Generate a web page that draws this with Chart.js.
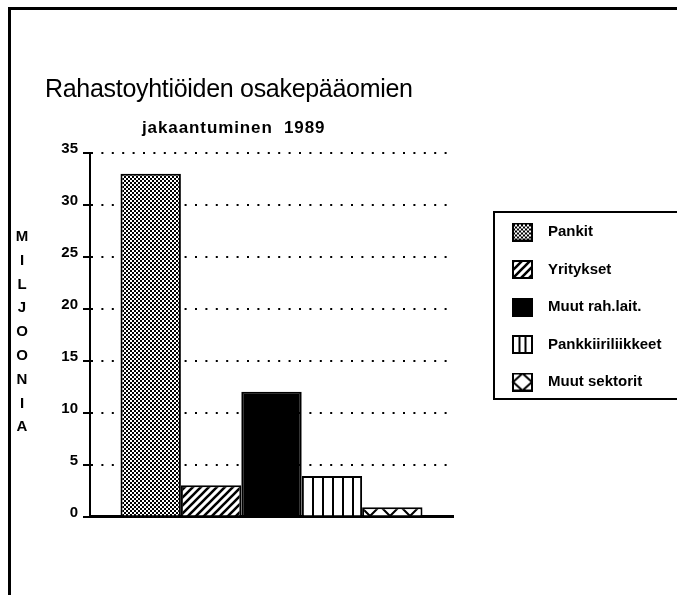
<!DOCTYPE html>
<html lang="fi">
<head>
<meta charset="UTF-8">
<title>Rahastoyhtiöiden osakepääomien jakaantuminen 1989</title>
<script src="https://cdn.jsdelivr.net/npm/chart.js@4.4.1/dist/chart.umd.min.js"></script>
<style>
    html, body { margin: 0; padding: 0; background: #fff; }
    #page {
        position: relative; width: 677px; height: 595px; overflow: hidden;
        font-family: 'Liberation Sans', Arial, Helvetica, sans-serif; color: #000;
    }
    #frame {
        position: absolute; left: 8px; top: 7px; width: 700px; height: 620px;
        border-left: 3px solid #000; border-top: 3px solid #000;
    }
    #chart { position: absolute; left: 0; top: 0; }
    .txt { position: absolute; white-space: pre; }
    #title { left: 45px; top: 75.5px; font-size: 25px; line-height: 25px; letter-spacing: -0.3px; }
    #subtitle { left: 142px; top: 119px; font-size: 17px; line-height: 17px; font-weight: bold; letter-spacing: 0.9px; }
    #ylabel { left: 12px; top: 224px; width: 20px; text-align: center; font-size: 15px; line-height: 23.8px; font-weight: bold; }
</style>
</head>
<body>
<div id="page">
    <div id="frame"></div>
    <canvas id="chart" width="677" height="595"></canvas>
    <div class="txt" id="title">Rahastoyhtiöiden osakepääomien</div>
    <div class="txt" id="subtitle">jakaantuminen  1989</div>
    <div class="txt" id="ylabel">M<br>I<br>L<br>J<br>O<br>O<br>N<br>I<br>A</div>
</div>

<script>
    // data (millions)
    const sectors = ['Pankit', 'Yritykset', 'Muut rah.lait.', 'Pankkiiriliikkeet', 'Muut sektorit'];
    const values = [33, 3, 12, 3.9, 0.9];
    const yTicks = [0, 5, 10, 15, 20, 25, 30, 35];
    const fills = ['dots', 'stripes', 'black', 'vlines', 'diamonds'];

    const FONT = "'Liberation Sans', Arial, Helvetica, sans-serif";

    function tile(w, h, draw) {
        const c = document.createElement('canvas');
        c.width = w; c.height = h;
        const g = c.getContext('2d');
        g.fillStyle = '#fff';
        g.fillRect(0, 0, w, h);
        g.fillStyle = '#000';
        g.strokeStyle = '#000';
        draw(g, w, h);
        return c;
    }

    function diamond(g, dy) {
        g.moveTo(0, 10 + dy); g.lineTo(10, dy); g.lineTo(20, 10 + dy); g.lineTo(10, 20 + dy); g.closePath();
    }

    const tiles = {
        dots: tile(4, 4, g => { g.fillRect(0, 0, 2, 2); g.fillRect(2, 2, 2, 2); }),
        stripes: tile(8, 8, g => {
            g.lineWidth = 2.6;
            g.beginPath();
            g.moveTo(-4, 4); g.lineTo(4, -4);
            g.moveTo(0, 8); g.lineTo(8, 0);
            g.moveTo(4, 12); g.lineTo(12, 4);
            g.stroke();
        }),
        vlines: tile(10, 10, g => { g.fillRect(2, 0, 2, 10); }),
        // bottom corners of the diamonds land on the base line (y = 516)
        diamonds: tile(20, 20, g => {
            g.lineWidth = 2;
            g.beginPath();
            diamond(g, -4);
            diamond(g, 16);
            g.stroke();
        })
    };

    const ctx = document.getElementById('chart').getContext('2d');

    function fillFor(kind) {
        if (kind === 'black') return '#000';
        return ctx.createPattern(tiles[kind], 'repeat');
    }

    // legend swatches: 21x19 box at the right end of a 50px wide image
    function icon(kind) {
        return tile(50, 19, g => {
            g.clearRect(0, 0, 50, 19);
            g.fillStyle = '#fff';
            g.fillRect(29, 0, 21, 19);
            if (kind === 'black') {
                g.fillStyle = '#000';
                g.fillRect(29, 0, 21, 19);
            } else if (kind === 'vlines') {
                g.fillStyle = '#000';
                g.fillRect(35.5, 0, 2, 19);
                g.fillRect(41.5, 0, 2, 19);
            } else if (kind === 'diamonds') {
                g.lineWidth = 2;
                g.beginPath();
                g.moveTo(39.5, 1); g.lineTo(49, 9.5); g.lineTo(39.5, 18); g.lineTo(30, 9.5); g.closePath();
                g.stroke();
            } else {
                g.fillStyle = g.createPattern(tiles[kind], 'repeat');
                g.fillRect(29, 0, 21, 19);
            }
            g.strokeStyle = '#000';
            g.lineWidth = 2;
            g.strokeRect(30, 1, 19, 17);
        });
    }
    const icons = fills.map(icon);

    // box around the legend, open on the right like in the original
    const legendFrame = {
        id: 'legendFrame',
        afterDraw(chart) {
            const boxes = chart.legend.legendHitBoxes;
            if (!boxes || !boxes.length) return;
            const first = boxes[0], last = boxes[boxes.length - 1];
            const left = first.left + 18.5;
            const top = first.top - 12.5;
            const bottom = last.top + last.height + 9.5;
            const c = chart.ctx;
            c.save();
            c.strokeStyle = '#000';
            c.lineWidth = 2;
            c.beginPath();
            c.moveTo(700, top); c.lineTo(left, top); c.lineTo(left, bottom); c.lineTo(700, bottom);
            c.stroke();
            c.restore();
        }
    };

    new Chart(ctx, {
        type: 'bar',
        data: {
            labels: ['1989'],
            datasets: sectors.map((name, i) => ({
                label: name,
                data: [values[i]],
                backgroundColor: fillFor(fills[i]),
                borderColor: '#000',
                borderWidth: 2,
                categoryPercentage: 0.832,
                barPercentage: 1
            }))
        },
        options: {
            responsive: false,
            animation: false,
            devicePixelRatio: 1,
            layout: { padding: { left: 30, top: 153, right: 8, bottom: 78.5 } },
            scales: {
                x: {
                    grid: { display: true, drawOnChartArea: false, drawTicks: false },
                    border: { display: true, color: '#000', width: 3 },
                    ticks: { display: false },
                    afterFit: s => { s.height = 0; }
                },
                y: {
                    min: 0,
                    max: 35,
                    afterBuildTicks: s => { s.ticks = yTicks.map(v => ({ value: v })); },
                    afterFit: s => { s.width = 60; },
                    grid: {
                        color: '#000', lineWidth: 2,
                        tickLength: 7, tickWidth: 2, tickColor: '#000', tickBorderDash: []
                    },
                    border: { display: true, color: '#000', width: 2, dash: [2, 8.4] },
                    ticks: {
                        color: '#000', padding: 5, labelOffset: -4,
                        font: { family: FONT, size: 15, weight: 'bold' }
                    }
                }
            },
            plugins: {
                tooltip: { enabled: false },
                legend: {
                    position: 'right',
                    align: 'start',
                    fullSize: false,
                    maxWidth: 216,
                    title: { display: true, text: '', font: { size: 1, lineHeight: 1 }, padding: { top: 48, bottom: 0 } },
                    labels: {
                        usePointStyle: true,
                        pointStyleWidth: 65,
                        boxHeight: 15,
                        padding: 22.5,
                        color: '#000',
                        font: { family: FONT, size: 15, weight: 'bold' },
                        generateLabels: chart => chart.data.datasets.map((ds, i) => ({
                            text: ds.label,
                            pointStyle: icons[i],
                            datasetIndex: i,
                            hidden: false,
                            lineWidth: 0,
                            fillStyle: 'transparent',
                            strokeStyle: 'transparent',
                            fontColor: '#000'
                        }))
                    }
                }
            }
        },
        plugins: [legendFrame]
    });
</script>
</body>
</html>
